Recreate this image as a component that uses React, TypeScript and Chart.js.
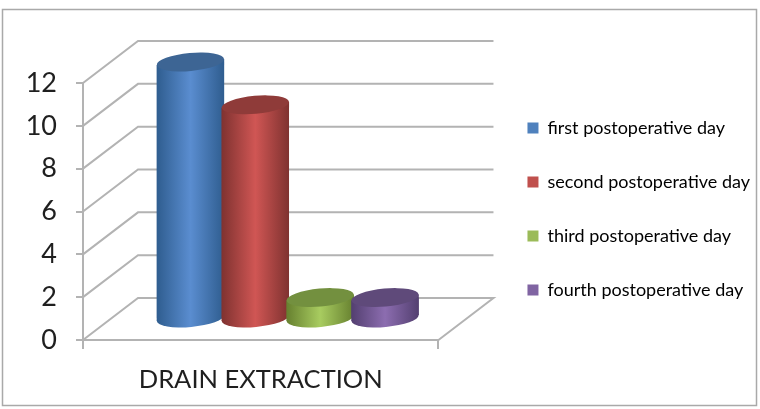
import React, { useEffect, useRef } from "react";
import { Chart, registerables } from "chart.js";
Chart.register(...registerables);

const categories = ["DRAIN EXTRACTION"];
const seriesNames = ["first postoperative day", "second postoperative day", "third postoperative day", "fourth postoperative day"];
const firstDay = [12];
const secondDay = [10];
const thirdDay = [1];
const fourthDay = [1];
const legendColors = ["#4f81bd", "#c0504d", "#9bbb59", "#8064a2"];
const edgeColors = ["#2f5d8f", "#7f3230", "#66802f", "#533f70"];
const midColors = ["#5a8dd0", "#d05654", "#a8cc60", "#8c6db0"];
const topColors = ["#3d6594", "#8f3b39", "#73903f", "#5f4a7a"];
const depthX = 55;
const depthY = 42;
const shiftX = 27;
const shiftY = -21;
const tilt = -0.09;
const frameColor = "#a9a9a9";
const wallColor = "#b3b3b3";

// Draws the series left to right so each later cylinder overlaps the earlier one.
const cylinders = {
  id: "cylinders",
  beforeDatasetDraw() {
    return false;
  },
  afterDatasetsDraw(chart: any) {
    const { ctx } = chart;
    seriesNames.forEach((_, i) => {
      const meta = chart.getDatasetMeta(i);
      const el = meta.data[0];
      const half = el.width / 2;
      const rise = half * Math.sin(-tilt);
      const g = ctx.createLinearGradient(el.x - half, 0, el.x + half, 0);
      g.addColorStop(0, edgeColors[i]);
      g.addColorStop(0.5, midColors[i]);
      g.addColorStop(1, edgeColors[i]);
      el.options = Object.assign({}, el.options, { backgroundColor: g });
      ctx.save();
      ctx.translate(shiftX, shiftY);
      ctx.fillStyle = g;
      ctx.beginPath();
      ctx.ellipse(el.x, el.base, half, 9, tilt, 0, Math.PI * 2);
      ctx.fill();
      ctx.beginPath();
      ctx.moveTo(el.x - half, el.y + rise);
      ctx.lineTo(el.x + half, el.y - rise);
      ctx.lineTo(el.x + half, el.base - rise);
      ctx.lineTo(el.x - half, el.base + rise);
      ctx.closePath();
      ctx.fill();
      ctx.save();
      ctx.clip();
      meta.controller.draw();
      ctx.restore();
      ctx.fillStyle = topColors[i];
      ctx.beginPath();
      ctx.ellipse(el.x, el.y, half, 9, tilt, 0, Math.PI * 2);
      ctx.fill();
      ctx.restore();
    });
  },
};

const walls = {
  id: "walls",
  beforeDatasetsDraw(chart: any) {
    const { ctx, chartArea: a, scales } = chart;
    ctx.save();
    ctx.strokeStyle = frameColor;
    ctx.lineWidth = 1.5;
    ctx.strokeRect(2.5, 9.5, 754, 396);
    ctx.strokeStyle = wallColor;
    ctx.lineWidth = 2;
    for (const t of scales.y.ticks) {
      const y = scales.y.getPixelForValue(t.value);
      ctx.beginPath();
      ctx.moveTo(a.left, y);
      ctx.lineTo(a.left + depthX, y - depthY);
      ctx.lineTo(a.right + depthX, y - depthY);
      if (t.value === 0) {
        ctx.lineTo(a.right, y);
      }
      ctx.stroke();
    }
    ctx.restore();
  },
};

export default function App() {
  const ref = useRef<HTMLCanvasElement>(null);
  useEffect(() => {
    document.body.style.margin = "0";
    const values = [firstDay, secondDay, thirdDay, fourthDay];
    const chart = new Chart(ref.current!, {
      type: "bar",
      data: {
        labels: categories,
        datasets: seriesNames.map((label, i) => ({
          label,
          data: values[i],
          backgroundColor: legendColors[i],
          barPercentage: 1.04,
          categoryPercentage: 0.73,
        })),
      },
      options: {
        responsive: false,
        animation: false,
        clip: false,
        layout: { padding: { top: 83, left: 0, right: 0, bottom: 0 } },
        plugins: {
          tooltip: { enabled: false },
          legend: {
            position: "right",
            align: "start",
            maxWidth: 300,
            labels: {
              boxWidth: 11,
              boxHeight: 11,
              padding: 36,
              color: "#262626",
              font: { family: "Lato", size: 18 },
              generateLabels: () =>
                seriesNames.map((text, i) => ({
                  text,
                  fillStyle: legendColors[i],
                  strokeStyle: legendColors[i],
                  lineWidth: 0,
                  datasetIndex: i,
                })),
            },
          },
        },
        scales: {
          x: {
            grid: { drawOnChartArea: false, drawTicks: true, tickLength: 9, color: wallColor, lineWidth: 2, offset: true },
            border: { color: wallColor, width: 2 },
            ticks: { color: "#1f1f1f", font: { family: "Lato", size: 25.5 }, padding: 15 },
            afterFit: (s: any) => { s.height = 69; },
          },
          y: {
            min: 0,
            max: 12,
            grid: { drawOnChartArea: false, drawTicks: true, tickLength: 7, color: wallColor, lineWidth: 2 },
            border: { color: wallColor, width: 2 },
            ticks: { stepSize: 2, color: "#1f1f1f", font: { family: "Lato", size: 27 }, padding: 19 },
            afterFit: (s: any) => { s.width = 83; },
          },
          spacer: {
            axis: "y",
            position: "right",
            display: true,
            grid: { display: false, drawOnChartArea: false },
            border: { display: false },
            ticks: { display: false },
            afterFit: (s: any) => { s.width = 53; },
          },
        },
      } as any,
      plugins: [walls, cylinders],
    });
    return () => chart.destroy();
  }, []);
  return <canvas ref={ref} width={760} height={409} style={{ display: "block", filter: "blur(0.4px)" }} />;
}
